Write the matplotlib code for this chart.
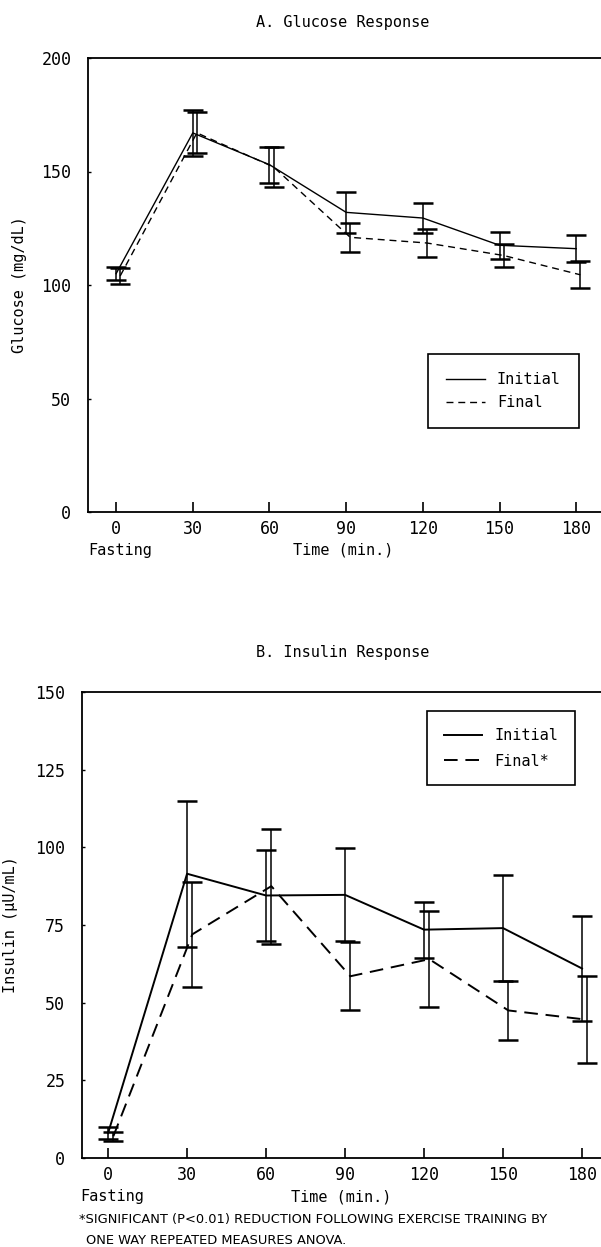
import numpy as np
import matplotlib
matplotlib.use("Agg")
import matplotlib.pyplot as plt

# dane
times = np.array([0, 30, 60, 90, 120, 150, 180])
time_labels = ["0", "30", "60", "90", "120", "150", "180"]

glucose_initial = [105, 167, 153, 132, 129.5, 117.5, 116]
glucose_initial_err = [3, 10, 8, 9, 6.5, 6, 6]
glucose_final = [104, 167, 152, 121, 118.5, 113, 104.5]
glucose_final_err = [3.5, 9, 9, 6.5, 6, 5, 6]

insulin_initial = [8, 91.5, 84.5, 84.7, 73.5, 74, 61]
insulin_initial_err = [2, 23.5, 14.5, 15, 9, 17, 17]
insulin_final = [7, 72, 87.5, 58.5, 64, 47.5, 44.5]
insulin_final_err = [1.5, 17, 18.5, 11, 15.5, 9.5, 14]

W, H = 601, 1247
mono = "DejaVu Sans Mono"

fig = plt.figure(figsize=(W / 100, H / 100), dpi=100)


def px_axes(left, top, right, bottom):
    return fig.add_axes([left / W, 1 - bottom / H, (right - left) / W, (bottom - top) / H])


def style_axes(ax, yticks, ylabel, label_x):
    for s in ["left", "bottom", "top"]:
        ax.spines[s].set_linewidth(1.3)
    ax.spines["right"].set_visible(False)
    ax.set_xticks(times)
    ax.set_xticklabels(time_labels, fontfamily=mono, fontsize=12)
    ax.set_yticks(yticks)
    ax.set_yticklabels([str(v) for v in yticks], fontfamily=mono, fontsize=12)
    ax.tick_params(axis="x", direction="in", length=7, width=1.2, pad=6)
    ax.tick_params(axis="y", direction="in", length=2.5, width=1, pad=12)
    ax.set_ylabel(ylabel, fontfamily=mono, fontsize=11)
    ax.yaxis.set_label_coords(label_x, 0.5)


def draw_series(ax, x, y, err, ls, label, lw, dashes):
    line = ax.errorbar(x, y, yerr=err, color="black", linestyle=ls, linewidth=lw,
                       elinewidth=1.1, capsize=7.5, capthick=1.8, label=label)
    if ls == "--":
        line[0].set_dashes(dashes)
    return line


def make_legend(ax, anchor, spacing, pad):
    h, l = ax.get_legend_handles_labels()
    h = [x[0] for x in h]
    leg = ax.legend(h, l, loc="upper left", bbox_to_anchor=anchor, borderaxespad=0,
                    fancybox=False, edgecolor="black", framealpha=1, handlelength=2.5,
                    borderpad=pad, labelspacing=spacing, prop={"family": mono, "size": 11})
    leg.get_frame().set_linewidth(1.2)
    return leg


# A. Glucose
ax1 = px_axes(88, 58, 601, 512)
draw_series(ax1, times, glucose_initial, glucose_initial_err, "-", "Initial", 1.0, None)
draw_series(ax1, times + 1.6, glucose_final, glucose_final_err, "--", "Final", 1.0, [5, 3.5])
ax1.set_xlim(-11, 189.7)
ax1.set_ylim(0, 200)
style_axes(ax1, [0, 50, 100, 150, 200], "Glucose (mg/dL)", -0.119)
make_legend(ax1, (0.663, 0.348), 0.5, 1.2)

fig.text(343 / W, 1 - 22 / H, "A. Glucose Response", ha="center", va="center",
         fontfamily=mono, fontsize=11)
fig.text(88 / W, 1 - 550 / H, "Fasting", ha="left", va="center", fontfamily=mono, fontsize=11)
fig.text(343 / W, 1 - 550 / H, "Time (min.)", ha="center", va="center", fontfamily=mono, fontsize=11)

# B. Insulin
ax2 = px_axes(82, 692, 601, 1158)
draw_series(ax2, times, insulin_initial, insulin_initial_err, "-", "Initial", 1.4, None)
draw_series(ax2, times + 2, insulin_final, insulin_final_err, "--", "Final*", 1.4, [7, 4])
ax2.set_xlim(-9.9, 187.2)
ax2.set_ylim(0, 150)
style_axes(ax2, [0, 25, 50, 75, 100, 125, 150], "Insulin (\u03bcU/mL)", -0.123)
make_legend(ax2, (0.665, 0.959), 0.7, 1.1)

fig.text(343 / W, 1 - 653 / H, "B. Insulin Response", ha="center", va="center",
         fontfamily=mono, fontsize=11)
fig.text(80 / W, 1 - 1197 / H, "Fasting", ha="left", va="center", fontfamily=mono, fontsize=11)
fig.text(341 / W, 1 - 1197 / H, "Time (min.)", ha="center", va="center", fontfamily=mono, fontsize=11)

fig.text(79 / W, 1 - 1219 / H,
         "*SIGNIFICANT (P<0.01) REDUCTION FOLLOWING EXERCISE TRAINING BY",
         ha="left", va="center", fontsize=9.4)
fig.text(86 / W, 1 - 1240 / H, "ONE WAY REPEATED MEASURES ANOVA.",
         ha="left", va="center", fontsize=9.4)

fig.savefig("out.png", dpi=100)
